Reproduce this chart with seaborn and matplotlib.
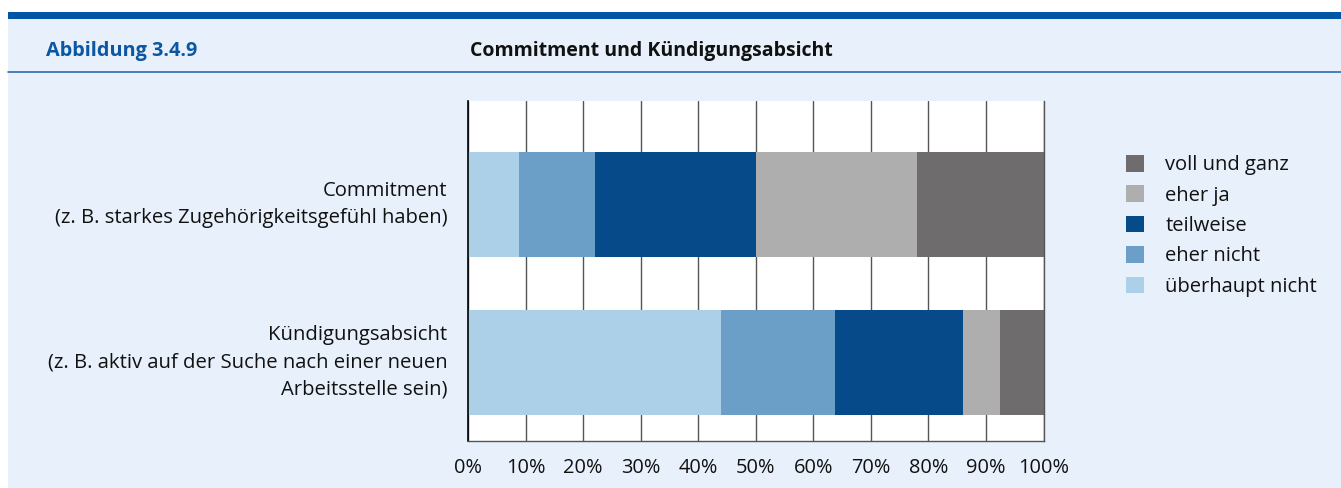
import matplotlib
matplotlib.use("Agg")
import matplotlib.pyplot as plt
from matplotlib.patches import Rectangle, Patch
from matplotlib.lines import Line2D
import seaborn as sns
import pandas as pd
import numpy as np

# Items and answer categories
items = [
    "Commitment\n(z. B. starkes Zugehörigkeitsgefühl haben)",
    "Kündigungsabsicht\n(z. B. aktiv auf der Suche nach einer neuen\nArbeitsstelle sein)",
]
levels = ["überhaupt nicht", "eher nicht", "teilweise", "eher ja", "voll und ganz"]

# Shares in percent per answer category
ueberhaupt_nicht = [8.8, 43.9]
eher_nicht = [13.2, 19.9]
teilweise = [28.0, 22.2]
eher_ja = [28.0, 6.5]
voll_und_ganz = [22.0, 7.5]

ticks = [0, 10, 20, 30, 40, 50, 60, 70, 80, 90, 100]
tick_labels = [f"{t}%" for t in ticks]

colors = {
    "überhaupt nicht": "#abd0e7",
    "eher nicht": "#6b9fc7",
    "teilweise": "#074a89",
    "eher ja": "#aeaeae",
    "voll und ganz": "#6f6c6d",
}

values = np.array([ueberhaupt_nicht, eher_nicht, teilweise, eher_ja, voll_und_ganz])
cum = np.cumsum(values, axis=0)
rows = []
for li, lev in enumerate(levels):
    for ii, it in enumerate(items):
        rows.append({"item": it, "level": lev, "value": values[li, ii], "cum": cum[li, ii]})
df = pd.DataFrame(rows)

sns.set_theme(style="white")
plt.rcParams["font.family"] = ["Open Sans", "DejaVu Sans"]

W, H = 1341, 488
fig = plt.figure(figsize=(W / 100, H / 100), dpi=100, facecolor="white")

# Page frame: blue top band, light background, header separator
fig.patches.append(Rectangle((8 / W, 0), 1 - 8 / W, (H - 19) / H, transform=fig.transFigure,
                             facecolor="#e8f1fb", edgecolor="none", zorder=-10))
fig.patches.append(Rectangle((8 / W, (H - 19) / H), 1 - 8 / W, 7 / H, transform=fig.transFigure,
                             facecolor="#0055a4", edgecolor="none", zorder=-10))
fig.lines.append(Line2D([8 / W, 1], [(H - 71.5) / H] * 2, transform=fig.transFigure,
                        color="#1a5fa8", lw=1.1, zorder=-5))

fig.text(46 / W, (H - 51) / H, "Abbildung 3.4.9", color="#0b57a3", fontsize=14.3,
         fontweight="bold", ha="left", va="center")
fig.text(470 / W, (H - 51) / H, "Commitment und Kündigungsabsicht", color="#111111",
         fontsize=14.0, fontweight="bold", ha="left", va="center")

ax = fig.add_axes([468 / W, (H - 441) / H, (1043.5 - 468) / W, 340 / H])
ax.set_zorder(1)
ax.set_facecolor("white")

# Stacked bars: draw cumulative totals from the longest to the shortest
for lev in reversed(levels):
    sub = df[df["level"] == lev]
    sns.barplot(data=sub, x="cum", y="item", color=colors[lev], saturation=1,
                width=0.665, linewidth=0, ax=ax, orient="h", order=items)

ax.set_xlim(0, 100)
ax.set_ylim(1.497, -0.655)
ax.set_xticks(ticks)
ax.set_xticklabels(tick_labels)
ax.set_xlabel("")
ax.set_ylabel("")
ax.set_axisbelow(True)
ax.grid(axis="x", color="#555555", lw=1.0)
ax.grid(axis="y", visible=False)
ax.spines["top"].set_visible(False)
ax.spines["left"].set_color("#000000")
ax.spines["left"].set_linewidth(1.2)
ax.spines["bottom"].set_color("#555555")
ax.spines["bottom"].set_linewidth(1.0)
ax.spines["right"].set_color("#555555")
ax.spines["right"].set_linewidth(1.0)
ax.tick_params(axis="x", length=0, pad=12, labelsize=14.4, labelcolor="#111111")
ax.tick_params(axis="y", length=0, pad=15, labelsize=14.6, labelcolor="#111111")
for lab in ax.get_yticklabels():
    lab.set_ha("right")
    lab.set_va("center")
    lab.set_multialignment("right")
    lab.set_linespacing(1.5)

handles = [Patch(facecolor=colors[l], edgecolor="none") for l in reversed(levels)]
fig.legend(handles, list(reversed(levels)), loc="upper left",
           bbox_to_anchor=(1126 / W, (H - 155) / H), frameon=False,
           fontsize=14.5, handlelength=0.9, handleheight=0.9, handletextpad=1.05,
           labelspacing=0.5, borderaxespad=0, borderpad=0, labelcolor="#111111")

fig.savefig("out.png", dpi=100, facecolor=fig.get_facecolor())
